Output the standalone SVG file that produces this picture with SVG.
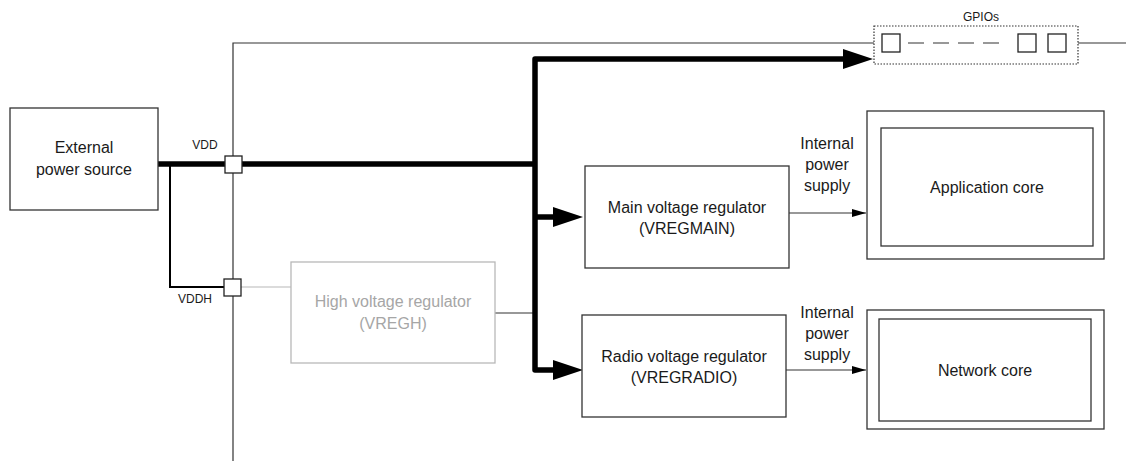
<svg xmlns="http://www.w3.org/2000/svg" width="1126" height="461" viewBox="0 0 1126 461">
<style>
text{font-family:"Liberation Sans",Arial,sans-serif;font-size:16px;fill:#1a1a1a;text-anchor:middle}
.sm{font-size:12px}
.gray{fill:#a6a6a6}
.box{fill:#fff;stroke:#333;stroke-width:1.3}
.gbox{fill:#fff;stroke:#b8b8b8;stroke-width:1.3}
.thin{fill:none;stroke:#333;stroke-width:1.2}
.thick{fill:none;stroke:#000;stroke-width:5.5;stroke-linejoin:round}
.mid{fill:none;stroke:#000;stroke-width:2}
.pin{fill:#fff;stroke:#222;stroke-width:1.3}
</style>
<defs>
<marker id="big" markerUnits="userSpaceOnUse" markerWidth="30" markerHeight="20" refX="0" refY="10" orient="auto"><path d="M0,0 L30,10 L0,20 z" fill="#000"/></marker>
<marker id="small" markerUnits="userSpaceOnUse" markerWidth="14" markerHeight="8" refX="14" refY="4" orient="auto"><path d="M0,0 L14,4 L0,8 z" fill="#000"/></marker>
</defs>
<g id="connectors">
<path class="thin" d="M233,461 V43 H874"/>
<path class="thin" d="M1078,43 H1126"/>
<path class="mid" d="M170,164 V287 H226"/>
<path d="M241,287 H291" fill="none" stroke="#b8b8b8" stroke-width="1.2"/>
<path class="thin" d="M495,313 H535"/>
<path class="thick" d="M158,164 H535"/>
<path class="thick" d="M535,164 V59 H843" marker-end="url(#big)"/>
<path class="thick" d="M535,164 V370 H553" marker-end="url(#big)"/>
<path class="thick" d="M535,217 H553" marker-end="url(#big)"/>
<path class="thin" d="M789,213 H866" marker-end="url(#small)"/>
<path class="thin" d="M786,370 H866" marker-end="url(#small)"/>
<text class="sm" x="205" y="149">VDD</text>
<text class="sm" x="195" y="303">VDDH</text>
<text x="827" y="149">Internal</text>
<text x="827" y="170">power</text>
<text x="827" y="191">supply</text>
<text x="827" y="318">Internal</text>
<text x="827" y="339">power</text>
<text x="827" y="360">supply</text>
</g>
<g id="pin-vdd"><rect class="pin" x="225" y="156" width="17" height="17"/></g>
<g id="pin-vddh"><rect class="pin" x="224" y="279" width="17" height="17"/></g>
<g id="external">
<rect class="box" x="10" y="108" width="148" height="102"/>
<text x="84" y="153">External</text>
<text x="84" y="175">power source</text>
</g>
<g id="vregh">
<rect class="gbox" x="291" y="262" width="204" height="101"/>
<text class="gray" x="393" y="307">High voltage regulator</text>
<text class="gray" x="393" y="329">(VREGH)</text>
</g>
<g id="vregmain">
<rect class="box" x="585" y="166" width="204" height="102"/>
<text x="687" y="213">Main voltage regulator</text>
<text x="687" y="234">(VREGMAIN)</text>
</g>
<g id="vregradio">
<rect class="box" x="582" y="315" width="204" height="102"/>
<text x="684" y="362">Radio voltage regulator</text>
<text x="684" y="383">(VREGRADIO)</text>
</g>
<g id="appcore">
<rect class="box" x="867" y="111" width="237" height="148"/>
<rect class="box" x="881" y="128" width="212" height="118"/>
<text x="987" y="193">Application core</text>
</g>
<g id="netcore">
<rect class="box" x="867" y="310" width="237" height="119"/>
<rect class="box" x="879" y="319" width="212" height="102"/>
<text x="985" y="376">Network core</text>
</g>
<g id="gpios">
<rect x="874" y="26" width="204" height="38" fill="#fff" stroke="#333" stroke-width="1.2" stroke-dasharray="1.5,1.5"/>
<text class="sm" x="981" y="21">GPIOs</text>
<rect class="pin" x="882" y="34" width="18" height="18"/>
<path d="M908,43 H1003" fill="none" stroke="#333" stroke-width="1.2" stroke-dasharray="16,9"/>
<rect class="pin" x="1018" y="34" width="18" height="18"/>
<rect class="pin" x="1048" y="34" width="18" height="18"/>
</g>
</svg>
